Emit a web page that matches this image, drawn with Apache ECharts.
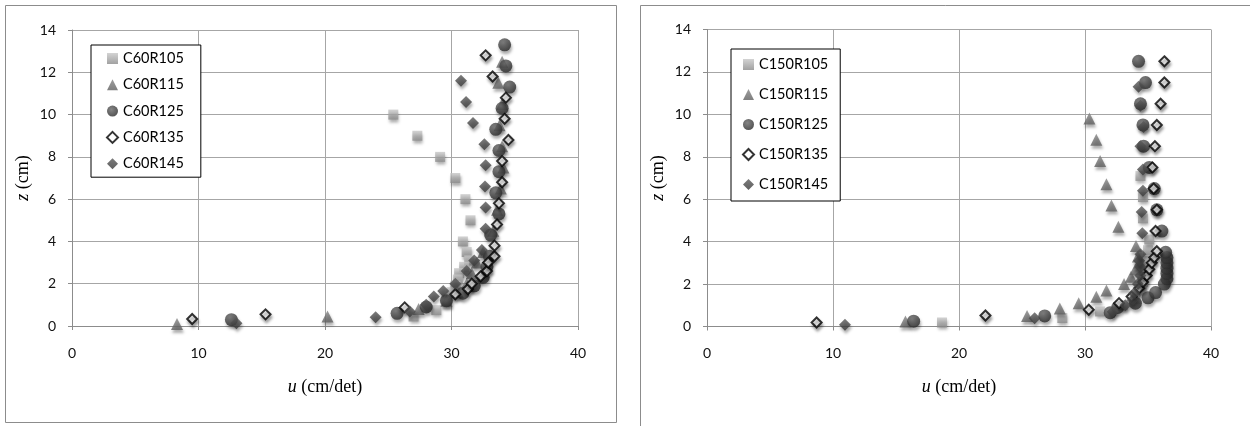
<!DOCTYPE html>
<html>
<head>
<meta charset="utf-8">
<script src="https://cdn.jsdelivr.net/npm/echarts@6/dist/echarts.min.js"></script>
<style>html,body{margin:0;padding:0;background:#fff}#c{width:1250px;height:426px}</style>
</head>
<body>
<div id="c"></div>
<script>
// ---- Data: [u (cm/det), z (cm)] ----
const c60r105 = [[25.4,10.0],[27.3,9.0],[29.1,8.0],[30.3,7.0],[31.1,6.0],[31.5,5.0],[30.9,4.0],[31.2,3.5],[31.4,3.1],[31.0,2.8],[30.6,2.5],[30.5,2.2],[30.3,1.9],[30.0,1.6],[29.6,1.3],[28.8,0.75],[27.0,0.45]];
const c60r115 = [[8.3,0.1],[20.2,0.45],[27.4,0.8],[29.6,1.2],[30.5,1.6],[31.2,2.0],[31.6,2.5],[32.0,3.0],[32.5,3.5],[33.3,4.5],[33.6,5.5],[33.9,6.5],[34.1,7.5],[34.0,8.5],[33.8,9.5],[34.0,10.5],[33.7,11.5],[34.0,12.5]];
const c60r125 = [[12.6,0.3],[25.7,0.6],[28.0,0.9],[29.6,1.2],[30.9,1.55],[31.8,1.9],[32.5,2.3],[32.8,2.8],[33.0,3.3],[33.1,4.3],[33.75,5.3],[33.5,6.3],[33.75,7.3],[33.75,8.3],[33.5,9.3],[34.0,10.3],[34.6,11.3],[34.3,12.3],[34.2,13.3]];
const c60r135 = [[9.5,0.33],[15.3,0.55],[26.3,0.88],[30.3,1.5],[31.3,1.75],[31.6,2.0],[32.3,2.35],[32.8,2.6],[32.9,3.0],[33.4,3.3],[33.4,3.8],[33.6,4.8],[33.75,5.8],[34.0,6.8],[34.0,7.8],[34.5,8.8],[34.2,9.8],[34.3,10.8],[33.25,11.8],[32.7,12.8]];
const c60r145 = [[13.0,0.13],[24.0,0.41],[26.7,0.68],[28.0,1.0],[28.6,1.4],[29.35,1.65],[30.3,2.0],[31.2,2.6],[31.8,3.1],[32.4,3.6],[32.7,4.6],[32.7,5.6],[32.65,6.6],[32.7,7.6],[32.6,8.6],[31.7,9.6],[31.15,10.6],[30.75,11.6]];

const c150r105 = [[18.65,0.19],[28.2,0.4],[31.2,0.71],[33.0,1.0],[34.0,1.3],[34.5,1.7],[34.6,2.1],[34.7,2.6],[34.8,3.1],[35.0,3.6],[35.1,4.1],[34.6,5.1],[34.6,6.1],[34.4,7.1]];
const c150r115 = [[15.75,0.24],[25.4,0.5],[28.0,0.85],[29.5,1.1],[30.9,1.4],[31.7,1.7],[33.1,2.0],[33.65,2.35],[34.0,2.7],[34.3,3.0],[34.2,3.3],[34.05,3.8],[32.65,4.7],[32.1,5.7],[31.7,6.7],[31.2,7.8],[30.9,8.8],[30.35,9.8]];
const c150r125 = [[16.4,0.25],[26.8,0.5],[32.0,0.65],[32.6,0.9],[34.0,1.1],[35.0,1.35],[35.6,1.6],[36.3,2.0],[36.5,2.25],[36.5,2.5],[36.5,2.75],[36.5,3.0],[36.5,3.25],[36.4,3.5],[36.1,4.5],[35.7,5.5],[35.5,6.5],[35.1,7.5],[34.65,8.5],[34.6,9.5],[34.4,10.5],[34.8,11.5],[34.25,12.5]];
const c150r135 = [[8.7,0.19],[22.1,0.52],[30.3,0.79],[32.7,1.1],[33.7,1.41],[34.3,1.8],[34.6,2.1],[34.9,2.4],[35.1,2.7],[35.3,3.0],[35.5,3.25],[35.7,3.55],[35.6,4.5],[35.7,5.5],[35.45,6.5],[35.35,7.5],[35.55,8.5],[35.7,9.5],[36.0,10.5],[36.3,11.5],[36.3,12.5]];
const c150r145 = [[10.95,0.08],[26.0,0.39],[32.2,0.7],[33.2,1.0],[33.8,1.25],[33.9,1.57],[34.2,2.0],[34.4,2.4],[34.4,2.8],[34.3,3.1],[34.4,3.4],[34.55,4.4],[34.5,5.4],[34.6,6.4],[34.6,7.4],[34.4,8.5],[34.65,9.4],[34.4,10.4],[34.25,11.3]];

const leftNames = ['C60R105','C60R115','C60R125','C60R135','C60R145'];
const rightNames = ['C150R105','C150R115','C150R125','C150R135','C150R145'];
const leftData = [c60r105,c60r115,c60r125,c60r135,c60r145];
const rightData = [c150r105,c150r115,c150r125,c150r135,c150r145];
const xTicks = {min:0, max:40, interval:10};
const yTicks = {min:0, max:14, interval:2};

// ---- Styles ----
const shadow = {shadowBlur:3, shadowOffsetX:1, shadowOffsetY:3, shadowColor:'rgba(0,0,0,0.4)'};
const styles = [
  {symbol:'rect', size:10, itemStyle:Object.assign({color:{type:'linear',x:0,y:0,x2:0,y2:1,colorStops:[{offset:0,color:'#c8c8c8'},{offset:1,color:'#8a8a8a'}]}}, shadow)},
  {symbol:'triangle', size:12, itemStyle:Object.assign({color:{type:'linear',x:0,y:0,x2:0,y2:1,colorStops:[{offset:0,color:'#858585'},{offset:1,color:'#5e5e5e'}]}}, shadow)},
  {symbol:'circle', size:13, itemStyle:Object.assign({color:{type:'radial',x:0.4,y:0.35,r:0.7,colorStops:[{offset:0,color:'#666666'},{offset:1,color:'#262626'}]}}, shadow)},
  {symbol:'diamond', size:10, itemStyle:Object.assign({color:'#ffffff', borderColor:'#000', borderWidth:2}, shadow)},
  {symbol:'diamond', size:12, itemStyle:Object.assign({color:{type:'linear',x:0,y:0,x2:0,y2:1,colorStops:[{offset:0,color:'#5a5a5a'},{offset:1,color:'#383838'}]}}, shadow)}
];

const gridLine = '#a6a6a6';
function xAxis(gi){
  return Object.assign({type:'value', gridIndex:gi,
    name:'{i|u} (cm/det)', nameLocation:'middle', nameGap:52,
    nameTextStyle:{fontFamily:'Liberation Serif', fontSize:18, color:'#000', rich:{i:{fontFamily:'Liberation Serif', fontSize:18, fontStyle:'italic', color:'#000'}}},
    axisLine:{show:true, onZero:false, lineStyle:{color:'#8c8c8c'}},
    axisTick:{show:true, length:4, lineStyle:{color:'#8c8c8c'}},
    axisLabel:{margin:20, fontFamily:'Lato', fontSize:14, color:'#111'},
    splitLine:{show:true, lineStyle:{color:gridLine, width:1}}
  }, xTicks);
}
function yAxis(gi){
  return Object.assign({type:'value', gridIndex:gi,
    name:'{i|z} (cm)', nameLocation:'middle', nameGap:40, nameRotate:90,
    nameTextStyle:{fontFamily:'Liberation Serif', fontSize:18, color:'#000', rich:{i:{fontFamily:'Liberation Serif', fontSize:18, fontStyle:'italic', color:'#000'}}},
    axisLine:{show:true, onZero:false, lineStyle:{color:'#8c8c8c'}},
    axisTick:{show:true, length:4, lineStyle:{color:'#8c8c8c'}},
    axisLabel:{margin:16, fontFamily:'Lato', fontSize:14, color:'#111'},
    splitLine:{show:true, lineStyle:{color:gridLine, width:1}}
  }, yTicks);
}

const series = [];
leftNames.forEach((n,i)=>series.push({type:'scatter', name:n, xAxisIndex:0, yAxisIndex:0, data:leftData[i], symbol:styles[i].symbol, symbolSize:styles[i].size, itemStyle:styles[i].itemStyle, emphasis:{disabled:true}, z:2+i}));
rightNames.forEach((n,i)=>series.push({type:'scatter', name:n, xAxisIndex:1, yAxisIndex:1, data:rightData[i], symbol:styles[i].symbol, symbolSize:styles[i].size, itemStyle:styles[i].itemStyle, emphasis:{disabled:true}, z:2+i}));

const legendBase = {orient:'vertical', itemWidth:11, itemHeight:11, backgroundColor:'#fff', borderColor:'#000', borderWidth:1,
  textStyle:{fontFamily:'Lato', fontSize:14.5, color:'#000'}, selectedMode:false, z:10};

const chart = echarts.init(document.getElementById('c'), null, {renderer:'canvas'});
chart.setOption({
  animation:false,
  backgroundColor:'#fff',
  grid:[{left:72, top:30, width:506, height:296}, {left:707, top:29.5, width:504, height:297}],
  xAxis:[xAxis(0), xAxis(1)],
  yAxis:[yAxis(0), yAxis(1)],
  legend:[
    Object.assign({}, legendBase, {data:leftNames, left:91, top:45, itemGap:11.3, padding:[6,17,6,15]}),
    Object.assign({}, legendBase, {data:rightNames, left:731, top:49, itemGap:15.0, padding:[8,12,9,11]})
  ],
  graphic:[
    {type:'rect', shape:{x:5.5, y:5.5, width:611, height:417}, style:{fill:null, stroke:'#8c8c8c', lineWidth:1}, silent:true, z:-1},
    {type:'polyline', shape:{points:[[640.5,430],[640.5,5.5],[1250,5.5]]}, style:{fill:null, stroke:'#8c8c8c', lineWidth:1}, silent:true, z:-1}
  ],
  series:series
});
</script>
</body>
</html>
